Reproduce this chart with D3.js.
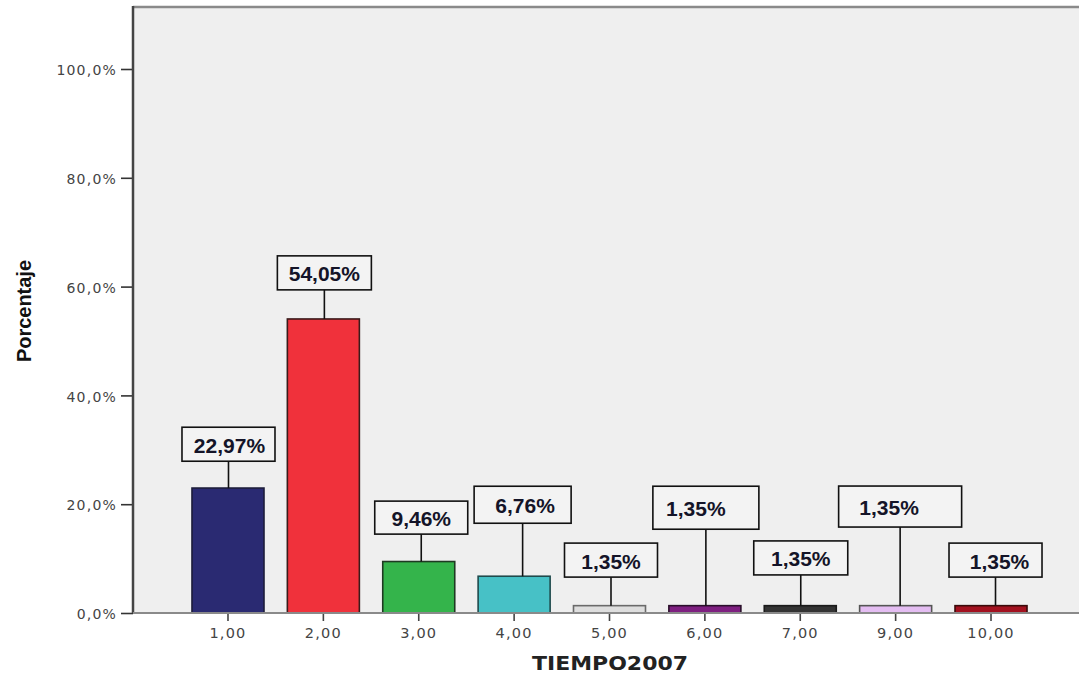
<!DOCTYPE html>
<html>
<head>
<meta charset="utf-8">
<script src="https://cdn.jsdelivr.net/npm/d3@7"></script>
<style>
  html, body { margin: 0; padding: 0; background: #ffffff; }
  svg { display: block; }
</style>
</head>
<body>
<svg id="chart" width="1079" height="677"></svg>
<script>
// Frequencies of TIEMPO2007 (percent of cases)
const categories = ["1,00", "2,00", "3,00", "4,00", "5,00", "6,00", "7,00", "9,00", "10,00"];
const percentages = [22.97, 54.05, 9.46, 6.76, 1.35, 1.35, 1.35, 1.35, 1.35];
const valueLabels = ["22,97%", "54,05%", "9,46%", "6,76%", "1,35%", "1,35%", "1,35%", "1,35%", "1,35%"];
const yTickValues = [0, 20, 40, 60, 80, 100];
const yTickLabels = ["0,0%", "20,0%", "40,0%", "60,0%", "80,0%", "100,0%"];

// Bar fills and outlines, one per category
const barFills = ["#2a2a72", "#f0313b", "#34b44b", "#47c1c6", "#dedede", "#7e1f80", "#333333", "#e4bdf2", "#a3111f"];
const barStrokes = ["#1c1c3a", "#3a1a1a", "#1e3a22", "#1f4a4c", "#6a6a6a", "#2a0f2a", "#1a1a1a", "#555555", "#3a0a0a"];

// Callout placement: box bottom (as a percent level), box size, horizontal shift, text shift
const calloutBottom = [27.9, 59.4, 14.5, 16.5, 6.6, 15.4, 7.0, 15.8, 6.6];
const calloutWidth = [93, 94, 93, 97, 93, 106, 94, 123, 93];
const calloutHeight = [34, 34, 33, 37, 34, 43, 34, 41, 34];
const calloutShift = [0.5, 1, 2.5, 8.5, 1.5, 1, 0.5, 4.5, 4.5];
const textShift = [1, 0, 0, 2.5, 0, -10, 0, -11, 4];

const svg = d3.select("#chart");
const plot = { left: 133, top: 7, right: 1079, bottom: 613 };

const y = d3.scaleLinear()
  .domain([0, 100])
  .range([plot.bottom, 69]);

const x = d3.scaleBand()
  .domain(categories)
  .range([180.3, 1038.7])
  .paddingInner(0.245)
  .paddingOuter(0.1225);

// plot background
svg.append("rect")
  .attr("x", plot.left).attr("y", plot.top)
  .attr("width", plot.right - plot.left)
  .attr("height", plot.bottom - plot.top)
  .attr("fill", "#efefef");

// top frame line
svg.append("line")
  .attr("x1", plot.left).attr("x2", plot.right)
  .attr("y1", plot.top).attr("y2", plot.top)
  .attr("stroke", "#8a8a8a").attr("stroke-width", 2.5);

// bars
svg.append("g").selectAll("rect")
  .data(percentages)
  .join("rect")
  .attr("x", (d, i) => x(categories[i]))
  .attr("y", d => y(d))
  .attr("width", x.bandwidth())
  .attr("height", d => y(0) - y(d))
  .attr("fill", (d, i) => barFills[i])
  .attr("stroke", (d, i) => barStrokes[i])
  .attr("stroke-width", 1.6);

// value callouts
const callouts = svg.append("g").selectAll("g")
  .data(percentages)
  .join("g");

const cx = i => x(categories[i]) + x.bandwidth() / 2 + calloutShift[i];

callouts.append("line")
  .attr("x1", (d, i) => cx(i))
  .attr("x2", (d, i) => cx(i))
  .attr("y1", (d, i) => y(calloutBottom[i]))
  .attr("y2", d => y(d))
  .attr("stroke", "#111").attr("stroke-width", 1.6);

callouts.append("rect")
  .attr("x", (d, i) => cx(i) - calloutWidth[i] / 2)
  .attr("y", (d, i) => y(calloutBottom[i]) - calloutHeight[i])
  .attr("width", (d, i) => calloutWidth[i])
  .attr("height", (d, i) => calloutHeight[i])
  .attr("fill", "#f3f3f3")
  .attr("stroke", "#111").attr("stroke-width", 1.6);

callouts.append("text")
  .attr("x", (d, i) => cx(i) + textShift[i])
  .attr("y", (d, i) => y(calloutBottom[i]) - calloutHeight[i] / 2 + 8.5)
  .attr("text-anchor", "middle")
  .attr("font-family", "'Liberation Sans', Arial, sans-serif")
  .attr("font-weight", "bold")
  .attr("font-size", 21)
  .attr("fill", "#141428")
  .text((d, i) => valueLabels[i]);

// y axis
const yAxis = d3.axisLeft(y)
  .tickValues(yTickValues)
  .tickFormat((d, i) => yTickLabels[i])
  .tickSize(12)
  .tickPadding(4);

const yg = svg.append("g")
  .attr("transform", `translate(${plot.left},0)`)
  .call(yAxis);
yg.select(".domain").remove();
yg.selectAll(".tick line").attr("stroke", "#333").attr("stroke-width", 1.6);
yg.selectAll(".tick text")
  .attr("font-family", "'DejaVu Sans', Verdana, sans-serif")
  .attr("font-size", 14)
  .attr("letter-spacing", 1.2)
  .attr("fill", "#444")
  .attr("dy", "0.4em");

svg.append("line")
  .attr("x1", plot.left).attr("x2", plot.left)
  .attr("y1", plot.top - 1).attr("y2", plot.bottom)
  .attr("stroke", "#444").attr("stroke-width", 2.5);

// x axis
const xAxis = d3.axisBottom(x).tickSize(8).tickPadding(7);
const xg = svg.append("g")
  .attr("transform", `translate(0,${plot.bottom})`)
  .call(xAxis);
xg.select(".domain").remove();
xg.selectAll(".tick line").attr("stroke", "#444").attr("stroke-width", 1.6);
xg.selectAll(".tick text")
  .attr("font-family", "'DejaVu Sans', Verdana, sans-serif")
  .attr("font-size", 14.5)
  .attr("letter-spacing", 1.2)
  .attr("fill", "#444");

svg.append("line")
  .attr("x1", plot.left).attr("x2", plot.right)
  .attr("y1", plot.bottom).attr("y2", plot.bottom)
  .attr("stroke", "#8a8a8a").attr("stroke-width", 2);

// axis titles
svg.append("text")
  .attr("x", 610).attr("y", 670)
  .attr("text-anchor", "middle")
  .attr("font-family", "'DejaVu Sans', Verdana, sans-serif")
  .attr("font-weight", "bold")
  .attr("font-size", 19)
  .attr("textLength", 156)
  .attr("lengthAdjust", "spacingAndGlyphs")
  .attr("fill", "#222")
  .text("TIEMPO2007");

svg.append("text")
  .attr("transform", "translate(31,311) rotate(-90)")
  .attr("text-anchor", "middle")
  .attr("font-family", "'Liberation Sans', Arial, sans-serif")
  .attr("font-weight", "bold")
  .attr("font-size", 21)
  .attr("textLength", 102)
  .attr("lengthAdjust", "spacingAndGlyphs")
  .attr("fill", "#111")
  .text("Porcentaje");
</script>
</body>
</html>
